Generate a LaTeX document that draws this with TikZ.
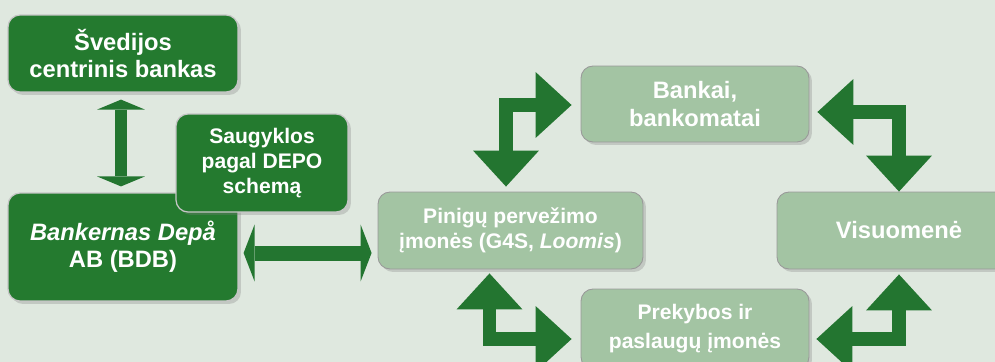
\documentclass[tikz,border=0pt]{standalone}
\usepackage{fontspec}
\setmainfont{Liberation Sans}
\usetikzlibrary{calc}
\usetikzlibrary{positioning}
\usetikzlibrary{arrows.meta}
\usetikzlibrary{shadows}
\definecolor{bggreen}{HTML}{DFE8DF}
\definecolor{darkgreen}{HTML}{247A2F}
\definecolor{palegreen}{HTML}{A3C4A3}
\definecolor{arrowgreen}{HTML}{237530}
\tikzset{every node/.style={align=center, text=white,
           font=\bfseries},
         box/.style={ % common look of all boxes
           rounded corners=0.24cm, inner sep=0pt,
           drop shadow={shadow xshift=0.6mm, shadow yshift=-0.6mm, opacity=0.3}},
         darkbox/.style={box, fill=darkgreen, draw=gray!45, line width=0.7pt},
         lightbox/.style={box, fill=palegreen, draw=black!40, line width=0.5pt},
         bigtext/.style={font=\fontsize{13.5}{15.5}\selectfont\bfseries},
         smalltext/.style={font=\fontsize{12}{14}\selectfont\bfseries},
         vflow/.style={ % straight arrow, up and down
           draw=arrowgreen, line width=0.26cm, <->,
           >={Triangle[length=0.2cm, width=0.96cm, line width=0pt]}},
         hflow/.style={ % straight arrow, left and right
           draw=arrowgreen, line width=0.3cm, <->,
           >={Triangle[length=0.22cm, width=1.14cm, line width=0pt]}},
         lflow/.style={ % bent arrows round the cycle
           draw=arrowgreen, line width=0.27cm, line join=miter, <->,
           >={Triangle[length=0.72cm, width=1.32cm, line width=0pt]}}}

\begin{document}
\begin{tikzpicture}[x=0.02cm, y=-0.02cm]
  \useasboundingbox (0,0) rectangle (995,362);
  \clip (0,0) rectangle (995,362);
  \fill[bggreen] (0,0) rectangle (995,362);

  % left part
  \node [darkbox, bigtext, minimum width=4.6cm, minimum height=1.54cm] (sved) at (123,53.5) {
    Švedijos\\
    centrinis bankas};
  \node [darkbox, bigtext, minimum width=4.6cm, minimum height=2.16cm] (bdb) at (123,247) {
    {\itshape Bankernas Depå}\\
    AB (BDB)};
  \node [darkbox, smalltext, minimum width=3.44cm, minimum height=1.96cm] (saug) at (262,163) {
    Saugyklos\\
    pagal DEPO\\
    schemą};

  % cycle of cash
  \node [lightbox, smalltext, minimum width=5.3cm, minimum height=1.54cm] (pin) at (510.5,230.5) {
    Pinigų pervežimo\\
    įmonės (G4S, {\itshape Loomis})};
  \node [lightbox, bigtext, minimum width=4.56cm, minimum height=1.52cm] (bank) at (695,104) {
    Bankai,\\
    bankomatai};
  \node [lightbox, bigtext, minimum width=4.88cm, minimum height=1.54cm] (vis) at (899,230.5) {Visuomenė};
  \node [lightbox, font=\fontsize{12}{16.5}\selectfont\bfseries, minimum width=4.56cm, minimum height=1.6cm] (prek) at (695,329) {
    Prekybos ir\\
    paslaugų įmonės};

  \draw [vflow] ($(sved.south)+(-2,7)$) -- ($(bdb.north)+(-2,-6)$);
  \draw [hflow] ($(bdb.east)+(5,6)$) -- ($(bdb.east -| pin.west)+(-6,6)$);

  \draw [lflow] ($(pin.north)+(-4.5,-5)$) |- ($(bank.west)+(-9,1)$);
  \draw [lflow] ($(bank.east)+(8,8)$) -| (vis.north);
  \draw [lflow] ($(pin.south)+(-21,4)$) |- ($(prek.west)+(-9,10)$);
  \draw [lflow] ($(prek.east)+(7,10)$) -| ($(vis.south)+(0,5)$);
\end{tikzpicture}
\end{document}
